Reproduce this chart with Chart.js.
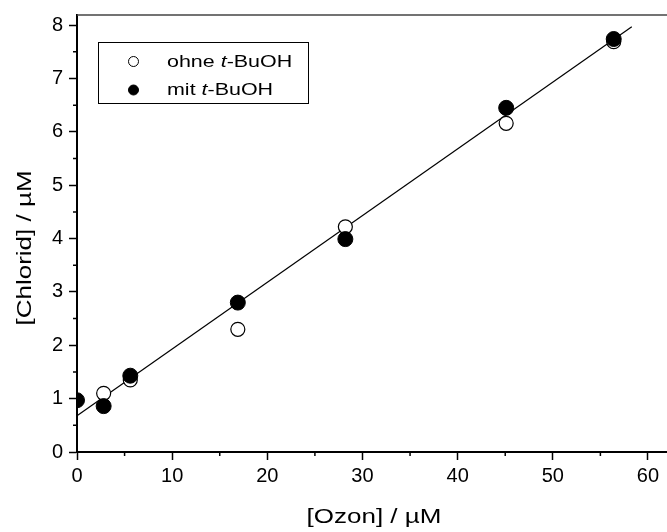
<!DOCTYPE html>
<html>
<head>
<meta charset="utf-8">
<script src="https://cdn.jsdelivr.net/npm/chart.js@4/dist/chart.umd.min.js"></script>
<style>
  html, body { margin: 0; padding: 0; background: #fff; overflow: hidden; }
  #chart { display: block; }
</style>
</head>
<body>
<canvas id="chart" width="667" height="532"></canvas>
<script>
// --- DONNEES ---
const ozonOhne = [2.8, 5.6, 16.9, 28.2, 45.1, 56.4];
const chloridOhne = [1.10, 1.35, 2.30, 4.22, 6.16, 7.69];

const ozonMit = [0, 2.8, 5.6, 16.9, 28.2, 45.1, 56.4];
const chloridMit = [0.97, 0.86, 1.43, 2.80, 3.99, 6.45, 7.74];

// droite de régression (début / fin)
const fitOzon = [0, 58.3];
const fitChlorid = [0.68, 7.97];

const xTicks = [0, 10, 20, 30, 40, 50, 60];
const yTicks = [0, 1, 2, 3, 4, 5, 6, 7, 8];
const xMinor = [5, 15, 25, 35, 45, 55];
const yMinor = [0.5, 1.5, 2.5, 3.5, 4.5, 5.5, 6.5, 7.5];

const FONT = '"Liberation Sans", Arial, sans-serif';
const STRETCH = 1.3; // texte élargi comme dans l'original

const toPoints = (xs, ys) => xs.map((x, i) => ({ x: x, y: ys[i] }));

// texte étiré horizontalement
function wideText(ctx, parts, x, y, align) {
    ctx.save();
    ctx.translate(x, y);
    ctx.scale(STRETCH, 1);
    let total = 0;
    parts.forEach(p => { ctx.font = p.font; total += ctx.measureText(p.t).width; });
    let cx = align === 'center' ? -total / 2 : 0;
    ctx.textAlign = 'left';
    parts.forEach(p => {
        ctx.font = p.font;
        ctx.fillText(p.t, cx, 0);
        cx += ctx.measureText(p.t).width;
    });
    ctx.restore();
}

// --- DECOR : cadre, ticks mineurs, titres, légende ---
const decorPlugin = {
    id: 'decor',
    afterDraw(chart) {
        const { ctx, chartArea: a, scales } = chart;
        ctx.save();

        // cadre haut
        ctx.strokeStyle = '#444';
        ctx.lineWidth = 1.5;
        ctx.beginPath();
        ctx.moveTo(a.left, a.top);
        ctx.lineTo(a.right, a.top);
        ctx.stroke();

        // ticks mineurs
        ctx.strokeStyle = '#000';
        ctx.lineWidth = 1.5;
        ctx.beginPath();
        xMinor.forEach(v => {
            const px = scales.x.getPixelForValue(v);
            ctx.moveTo(px, a.bottom);
            ctx.lineTo(px, a.bottom + 4);
        });
        yMinor.forEach(v => {
            const py = scales.y.getPixelForValue(v);
            ctx.moveTo(a.left, py);
            ctx.lineTo(a.left - 4, py);
        });
        ctx.stroke();

        // titres des axes
        ctx.fillStyle = '#000';
        ctx.textBaseline = 'middle';
        const tf = '20px ' + FONT;
        wideText(ctx, [{ t: '[Ozon] / µM', font: tf }], 374, 517, 'center');

        ctx.save();
        ctx.translate(25, 248);
        ctx.rotate(-Math.PI / 2);
        wideText(ctx, [{ t: '[Chlorid] / µM', font: tf }], 0, 0, 'center');
        ctx.restore();

        // légende
        ctx.strokeStyle = '#000';
        ctx.lineWidth = 1;
        ctx.strokeRect(98.5, 42.5, 210, 61);

        const lf = '16.5px ' + FONT;
        const lfi = 'italic 16.5px ' + FONT;
        const rows = [
            { y: 61.5, base: 66.7, fill: '#fff', pre: 'ohne ' },
            { y: 90, base: 95, fill: '#000', pre: 'mit ' }
        ];
        rows.forEach(r => {
            ctx.beginPath();
            ctx.arc(133.5, r.y, 5, 0, Math.PI * 2);
            ctx.fillStyle = r.fill;
            ctx.fill();
            ctx.lineWidth = 1;
            ctx.strokeStyle = '#000';
            ctx.stroke();

            ctx.fillStyle = '#000';
            ctx.textBaseline = 'alphabetic';
            wideText(ctx, [
                { t: r.pre, font: lf },
                { t: 't', font: lfi },
                { t: '-BuOH', font: lf }
            ], 167, r.base, 'left');
        });

        ctx.restore();
    }
};

// --- GRAPHIQUE ---
const ctx = document.getElementById('chart').getContext('2d');
new Chart(ctx, {
    type: 'scatter',
    data: {
        datasets: [
            {
                label: 'Fit',
                type: 'line',
                data: toPoints(fitOzon, fitChlorid),
                borderColor: '#000',
                borderWidth: 1.2,
                pointRadius: 0,
                fill: false,
                order: 3
            },
            {
                label: 'ohne t-BuOH',
                data: toPoints(ozonOhne, chloridOhne),
                pointRadius: 7,
                pointBackgroundColor: '#fff',
                pointBorderColor: '#000',
                pointBorderWidth: 1.2,
                clip: 0,
                order: 2
            },
            {
                label: 'mit t-BuOH',
                data: toPoints(ozonMit, chloridMit),
                pointRadius: 7.5,
                pointBackgroundColor: '#000',
                pointBorderColor: '#000',
                pointBorderWidth: 1,
                clip: 0,
                order: 1
            }
        ]
    },
    options: {
        responsive: false,
        animation: false,
        layout: { autoPadding: false, padding: { top: 15, right: 0, left: 0, bottom: 0 } },
        plugins: {
            legend: { display: false },
            tooltip: { enabled: false }
        },
        scales: {
            x: {
                type: 'linear',
                min: 0,
                max: 62,
                afterBuildTicks: s => { s.ticks = xTicks.map(v => ({ value: v })); },
                afterFit: s => {
                    s.height = 80;
                    s.paddingLeft = 0;
                    s.paddingRight = 0;
                },
                border: { display: true, color: '#000', width: 2 },
                grid: {
                    drawOnChartArea: false,
                    drawTicks: true,
                    tickLength: 8,
                    tickColor: '#000',
                    tickWidth: 1.5
                },
                ticks: {
                    color: '#000',
                    padding: 4,
                    maxRotation: 0,
                    font: { family: FONT, size: 20 }
                }
            },
            y: {
                type: 'linear',
                min: 0,
                max: 8.19,
                afterBuildTicks: s => { s.ticks = yTicks.map(v => ({ value: v })); },
                afterFit: s => {
                    s.width = 77;
                    s.paddingTop = 0;
                    s.paddingBottom = 0;
                },
                border: { display: true, color: '#000', width: 2 },
                grid: {
                    drawOnChartArea: false,
                    drawTicks: true,
                    tickLength: 8,
                    tickColor: '#000',
                    tickWidth: 1.5
                },
                ticks: {
                    color: '#000',
                    padding: 6,
                    font: { family: FONT, size: 20 }
                }
            }
        }
    },
    plugins: [decorPlugin]
});
</script>
</body>
</html>
